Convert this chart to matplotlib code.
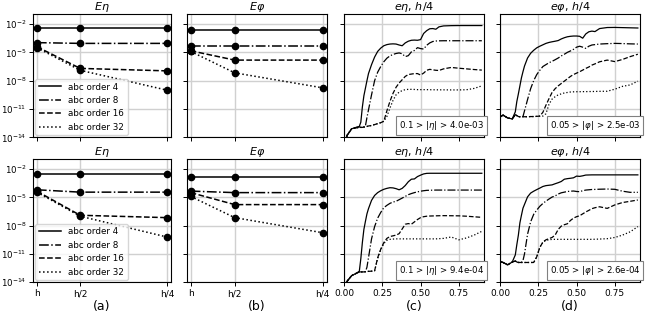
import numpy as np
import matplotlib.pyplot as plt
from matplotlib.ticker import NullLocator

# x positions of the three meshes (1/h multiplier) and their labels
mesh = [1, 2, 4]
mesh_labels = ["h", "h/2", "h/4"]
orders = [4, 8, 16, 32]
styles = ["-", "-.", "--", ":"]

# log10 of the global errors, rows are abc order 4, 8, 16, 32
E_eta_top = [[-2.39, -2.39, -2.39], [-3.97, -4.05, -4.05], [-4.4, -6.7, -6.96], [-4.5, -6.9, -9.0]]
E_phi_top = [[-2.64, -2.64, -2.64], [-4.3, -4.3, -4.3], [-4.83, -5.82, -5.82], [-4.9, -7.17, -8.76]]
E_eta_bot = [[-2.57, -2.57, -2.57], [-4.2, -4.45, -4.45], [-4.35, -6.9, -7.15], [-4.45, -7.0, -9.2]]
E_phi_bot = [[-2.83, -2.83, -2.83], [-4.34, -4.5, -4.5], [-4.5, -5.77, -5.77], [-4.9, -7.15, -8.75]]

# time and log10 of the error on the h/4 mesh
t = [0, .02, .05, .08, .1, .11, .12, .13, .14, .15, .16, .18, .2, .22, .24, .26, .28, .3, .32, .34,
     .36, .38, .4, .42, .44, .46, .48, .5, .52, .54, .56, .58, .6, .62, .65, .7, .75, .8, .85, .9]

c_top_4 = [-15.5, -13.8, -13.1, -12.95, -12.85, -12.4, -10.8, -9.6, -8.8, -8.0, -7.25, -6.3, -5.5, -4.9, -4.55, -4.3, -4.18, -4.12, -4.1, -4.12,
           -4.22, -4.3, -4.0, -3.82, -3.72, -3.7, -3.72, -3.65, -3.0, -2.7, -2.5, -2.48, -2.55, -2.3, -2.2, -2.17, -2.16, -2.16, -2.16, -2.16]
c_top_8 = [-15.5, -13.8, -13.1, -12.95, -12.9, -12.95, -12.95, -12.95, -12.8, -11.9, -11.1, -9.5, -8.0, -7.1, -6.5, -6.0, -5.62, -5.38, -5.22, -5.12,
           -5.06, -5.15, -5.45, -5.35, -4.95, -4.8, -4.5, -4.6, -4.65, -4.25, -4.0, -3.85, -3.8, -3.78, -3.77, -3.77, -3.77, -3.77, -3.77, -3.77]
c_top_16 = [-15.5, -13.8, -13.1, -13.0, -12.95, -12.95, -12.95, -12.9, -12.9, -12.85, -12.8, -12.75, -12.65, -12.55, -12.45, -12.3, -11.2, -10.2, -9.35, -8.7,
            -8.25, -7.9, -7.55, -7.35, -7.3, -7.25, -7.25, -7.4, -7.2, -6.9, -6.8, -6.85, -6.9, -6.92, -6.75, -6.6, -6.68, -6.75, -6.82, -6.88]
c_top_32 = [-15.5, -13.8, -13.1, -13.0, -12.95, -12.95, -12.95, -12.9, -12.9, -12.85, -12.8, -12.75, -12.65, -12.55, -12.45, -12.3, -11.8, -10.9, -10.1, -9.5,
            -9.22, -9.05, -8.95, -8.92, -8.92, -8.93, -8.95, -8.95, -8.95, -8.95, -8.96, -8.96, -8.97, -8.97, -8.97, -8.98, -8.98, -8.96, -8.82, -8.55]

d_top_4 = [-11.85, -11.65, -11.95, -12.05, -11.3, -10.2, -9.4, -8.55, -7.7, -7.05, -6.45, -5.6, -5.1, -4.78, -4.52, -4.35, -4.2, -4.05, -3.95, -3.88,
           -3.82, -3.75, -3.58, -3.45, -3.35, -3.3, -3.27, -3.27, -3.3, -3.5, -3.05, -2.82, -2.75, -2.8, -2.48, -2.37, -2.36, -2.38, -2.4, -2.42]
d_top_8 = [-11.85, -11.65, -11.95, -12.05, -11.6, -11.7, -11.8, -11.82, -11.82, -11.8, -11.2, -10.0, -8.85, -8.0, -7.35, -6.9, -6.5, -6.3, -6.1, -5.95,
           -5.78, -5.6, -5.38, -5.2, -5.0, -4.85, -4.68, -4.45, -4.35, -4.45, -4.58, -4.35, -4.22, -4.18, -4.12, -4.08, -4.05, -4.07, -4.1, -4.12]
d_top_16 = [-11.85, -11.65, -11.95, -12.05, -11.6, -11.7, -11.8, -11.82, -11.82, -11.82, -11.82, -11.82, -11.8, -11.8, -11.78, -11.75, -11.35, -10.6, -9.9, -9.25,
            -8.85, -8.55, -8.3, -8.05, -7.8, -7.55, -7.35, -7.2, -7.05, -6.88, -6.7, -6.55, -6.35, -6.22, -6.0, -5.82, -5.98, -5.75, -5.45, -5.2]
d_top_32 = [-11.85, -11.65, -11.95, -12.05, -11.6, -11.7, -11.8, -11.82, -11.82, -11.82, -11.82, -11.82, -11.8, -11.8, -11.78, -11.75, -11.75, -11.5, -10.5, -9.95,
            -9.7, -9.5, -9.4, -9.3, -9.25, -9.2, -9.18, -9.17, -9.17, -9.16, -9.16, -9.15, -9.15, -9.14, -9.13, -9.12, -8.9, -8.6, -8.45, -8.05]

c_bot_4 = [-15.5, -13.9, -13.3, -13.05, -12.85, -11.5, -9.8, -8.4, -7.55, -6.75, -6.2, -5.32, -4.8, -4.5, -4.3, -4.15, -4.05, -3.98, -4.0, -4.08,
           -4.2, -4.05, -3.75, -3.35, -3.08, -3.05, -2.8, -2.65, -2.52, -2.46, -2.45, -2.45, -2.45, -2.45, -2.45, -2.45, -2.45, -2.45, -2.45, -2.45]
c_bot_8 = [-15.5, -13.9, -13.3, -13.05, -12.9, -12.9, -12.9, -12.9, -12.88, -12.4, -11.4, -9.4, -8.1, -7.2, -6.6, -6.1, -5.85, -5.64, -5.5, -5.42,
           -5.25, -5.08, -4.9, -4.72, -4.6, -4.5, -4.42, -4.35, -4.3, -4.26, -4.25, -4.24, -4.23, -4.23, -4.23, -4.23, -4.23, -4.23, -4.23, -4.23]
c_bot_16 = [-15.5, -13.9, -13.3, -13.05, -12.9, -12.9, -12.9, -12.9, -12.88, -12.86, -12.84, -12.82, -12.78, -11.4, -10.5, -9.8, -9.35, -9.15, -9.08, -9.0,
            -8.85, -8.35, -7.85, -7.78, -7.85, -7.6, -7.35, -7.15, -7.05, -7.0, -6.98, -6.97, -6.96, -6.95, -6.94, -6.95, -6.96, -7.0, -7.06, -7.12]
c_bot_32 = [-15.5, -13.9, -13.3, -13.05, -12.9, -12.9, -12.9, -12.9, -12.88, -12.86, -12.84, -12.82, -12.78, -11.5, -10.5, -9.9, -9.55, -9.45, -9.42, -9.4,
            -9.4, -9.4, -9.4, -9.4, -9.4, -9.4, -9.4, -9.4, -9.4, -9.4, -9.4, -9.4, -9.4, -9.38, -9.35, -9.2, -9.5, -9.3, -9.0, -8.6]

d_bot_4 = [-11.8, -11.9, -12.15, -11.85, -11.1, -10.0, -9.0, -7.7, -6.9, -6.15, -5.75, -4.95, -4.55, -4.35, -4.18, -4.02, -3.85, -3.76, -3.72, -3.68,
           -3.56, -3.45, -3.32, -3.08, -3.02, -2.98, -2.93, -2.75, -2.78, -2.72, -2.64, -2.63, -2.62, -2.62, -2.62, -2.62, -2.62, -2.62, -2.62, -2.62]
d_bot_8 = [-11.8, -11.9, -12.15, -11.85, -11.75, -11.85, -11.9, -11.9, -11.9, -11.7, -11.0, -8.9, -7.6, -6.8, -6.35, -5.95, -5.65, -5.4, -5.18, -4.97,
           -4.85, -4.65, -4.52, -4.45, -4.38, -4.35, -4.33, -4.38, -4.4, -4.3, -4.23, -4.2, -4.17, -4.16, -4.14, -4.12, -4.15, -4.35, -4.47, -4.47]
d_bot_16 = [-11.8, -11.9, -12.15, -11.85, -11.75, -11.85, -11.9, -11.9, -11.9, -11.9, -11.9, -11.9, -11.9, -11.9, -11.3, -10.3, -9.75, -9.5, -9.37, -9.25,
            -9.0, -8.4, -8.05, -7.9, -7.8, -7.45, -7.2, -7.05, -6.95, -6.75, -6.55, -6.38, -6.2, -6.1, -6.0, -6.17, -5.8, -5.55, -5.42, -5.28]
d_bot_32 = [-11.8, -11.9, -12.15, -11.85, -11.75, -11.85, -11.9, -11.9, -11.9, -11.9, -11.9, -11.9, -11.9, -11.9, -11.3, -10.3, -9.75, -9.55, -9.5, -9.45,
            -9.45, -9.45, -9.45, -9.45, -9.45, -9.45, -9.45, -9.45, -9.45, -9.45, -9.45, -9.45, -9.45, -9.44, -9.42, -9.38, -9.25, -9.0, -8.65, -8.1]

conv_data = [[E_eta_top, E_phi_top], [E_eta_bot, E_phi_bot]]
time_data = [[[c_top_4, c_top_8, c_top_16, c_top_32], [d_top_4, d_top_8, d_top_16, d_top_32]],
             [[c_bot_4, c_bot_8, c_bot_16, c_bot_32], [d_bot_4, d_bot_8, d_bot_16, d_bot_32]]]
box_text = [[r"0.1 > $|\eta|$ > 4.0e-03", r"0.05 > $|\varphi|$ > 2.5e-03"],
            [r"0.1 > $|\eta|$ > 9.4e-04", r"0.05 > $|\varphi|$ > 2.6e-04"]]
titles = [r"$E\eta$", r"$E\varphi$", r"$e\eta$, $h/4$", r"$e\varphi$, $h/4$"]
panel_labels = ["(a)", "(b)", "(c)", "(d)"]

fig = plt.figure(figsize=(6.49, 3.13), dpi=100)
lefts = [0.0508, 0.2877, 0.530, 0.7704]
widths = [0.2123, 0.2157, 0.2162, 0.2162]
bottoms = [0.5613, 0.0981]
height = 0.3939

ax0 = None
col_axes = [None] * 4
for r in range(2):
    for c in range(4):
        ax = fig.add_axes([lefts[c], bottoms[r], widths[c], height],
                          sharey=ax0, sharex=col_axes[c])
        if ax0 is None:
            ax0 = ax
        if col_axes[c] is None:
            col_axes[c] = ax
        ax.set_yscale("log")
        ax.grid(True, color="#d0d0d0", lw=1.0)
        ax.set_axisbelow(True)
        ax.set_title(titles[c], fontsize=8, pad=3)
        ax.tick_params(labelsize=6.5, length=3, width=0.7, pad=2)
        ax.tick_params(axis="y", labelsize=6.2, pad=1.5)

        if c < 2:
            vals = conv_data[r][c]
            for k in range(4):
                y = 10.0 ** np.array(vals[k])
                ax.plot(mesh, y, color="black", ls=styles[k], lw=1.1,
                        label=f"abc order {orders[k]}")
                ax.plot(mesh, y, "o", color="black", ms=4.5)
            ax.set_xlim(0.91, 4.09)
            ax.set_xticks(mesh)
            ax.set_xticklabels(mesh_labels)
            if c == 0:
                ax.legend(loc="lower left", fontsize=6.3, handlelength=2.6,
                          borderaxespad=0.25, labelspacing=0.5)
        else:
            for k in range(4):
                ax.plot(t, 10.0 ** np.array(time_data[r][c - 2][k]), color="black",
                        ls=styles[k], lw=0.9)
            ax.set_xlim(0, 0.916)
            ax.set_xticks([0, 0.25, 0.5, 0.75])
            ax.text(1.0, 0.045, box_text[r][c - 2], transform=ax.transAxes, ha="right",
                    va="bottom", fontsize=6.2, clip_on=False,
                    bbox=dict(boxstyle="square,pad=0.35", facecolor="white", edgecolor="gray", lw=0.8))

        ax.set_ylim(1e-14, 1.15e-1)
        ax.set_yticks([1e-14, 1e-11, 1e-8, 1e-5, 1e-2])
        ax.yaxis.set_minor_locator(NullLocator())
        if c > 0:
            ax.tick_params(labelleft=False)
        if r == 0:
            ax.tick_params(labelbottom=False)
        else:
            ax.set_xlabel(panel_labels[c], fontsize=9, labelpad=1)

fig.savefig("out.png", dpi=100)
